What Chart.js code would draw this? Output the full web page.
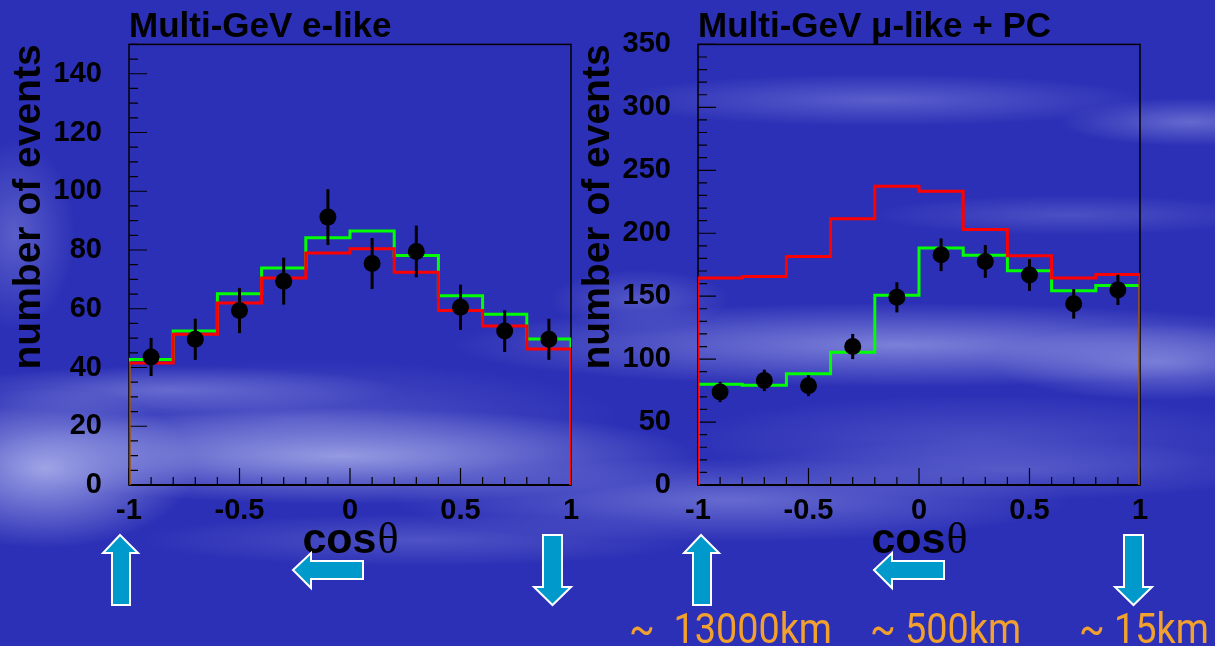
<!DOCTYPE html>
<html>
<head>
<meta charset="utf-8">
<script src="https://cdn.jsdelivr.net/npm/chart.js@4.4.0/dist/chart.umd.min.js"></script>
<style>
html, body { margin: 0; padding: 0; }
body {
    width: 1215px; height: 646px; overflow: hidden; position: relative;
    background:
        radial-gradient(ellipse 360px 48px at 340px 456px, rgba(165,170,232,0.85), rgba(165,170,232,0) 100%),
        radial-gradient(ellipse 150px 80px at 45px 468px, rgba(170,175,235,0.9), rgba(170,175,235,0) 100%),
        radial-gradient(ellipse 320px 60px at 300px 420px, rgba(120,125,215,0.45), rgba(120,125,215,0) 100%),
        radial-gradient(ellipse 230px 24px at 170px 390px, rgba(135,140,222,0.6), rgba(135,140,222,0) 100%),
        radial-gradient(ellipse 450px 42px at 900px 345px, rgba(150,155,228,0.75), rgba(150,155,228,0) 100%),
        radial-gradient(ellipse 170px 38px at 1160px 362px, rgba(150,155,228,0.65), rgba(150,155,228,0) 100%),
        radial-gradient(ellipse 300px 45px at 980px 440px, rgba(120,125,215,0.4), rgba(120,125,215,0) 100%),
        radial-gradient(ellipse 270px 26px at 880px 100px, rgba(120,125,218,0.6), rgba(120,125,218,0) 100%),
        radial-gradient(ellipse 130px 24px at 1190px 122px, rgba(130,135,220,0.65), rgba(130,135,220,0) 100%),
        radial-gradient(ellipse 60px 95px at 15px 235px, rgba(120,125,215,0.6), rgba(120,125,215,0) 100%),
        radial-gradient(ellipse 90px 30px at 640px 300px, rgba(125,130,218,0.5), rgba(125,130,218,0) 100%),
        radial-gradient(ellipse 340px 42px at 730px 500px, rgba(140,145,225,0.6), rgba(140,145,225,0) 100%),
        radial-gradient(ellipse 270px 30px at 1010px 470px, rgba(125,130,218,0.45), rgba(125,130,218,0) 100%),
        radial-gradient(ellipse 200px 20px at 1070px 215px, rgba(115,120,212,0.45), rgba(115,120,212,0) 100%),
        radial-gradient(ellipse 280px 26px at 420px 540px, rgba(120,125,215,0.45), rgba(120,125,215,0) 100%),
        #2c30b6;
}
.plot { position: absolute; top: 0; }
#wrapE { left: 0; }
#wrapMu { left: 569px; }
svg { position: absolute; left: 0; top: 0; }
.dist {
    position: absolute; top: 604px; color: #f2a12e;
    font: 42px Roboto, sans-serif; line-height: normal;
    transform: scaleX(0.9); transform-origin: left top; white-space: pre;
}
</style>
</head>
<body>
<div class="plot" id="wrapE"><canvas id="eChart" width="590" height="560"></canvas></div>
<div class="plot" id="wrapMu"><canvas id="muChart" width="590" height="560"></canvas></div>

<svg width="1215" height="646">
  <g fill="#0099cc" stroke="#ffffff" stroke-width="2" stroke-linejoin="miter">
    <polygon points="120,535 138,553 130,553 130,605 112,605 112,553 103,553"/>
    <polygon points="293,570 311,553 311,561 363,561 363,579 311,579 311,588"/>
    <polygon points="543,535 562,535 562,587 571,587 552.5,605 534,587 543,587"/>
    <polygon points="701,535 719,553 711,553 711,605 693,605 693,553 684,553"/>
    <polygon points="874,570 892,553 892,561 944,561 944,579 892,579 892,588"/>
    <polygon points="1124,535 1143,535 1143,587 1152,587 1133.5,605 1115,587 1124,587"/>
  </g>
</svg>

<div class="dist" style="left:629px">~  13000km</div>
<div class="dist" style="left:870px">~ 500km</div>
<div class="dist" style="left:1079px">~ 15km</div>

<script>
// bins in cos(theta)
const binEdges = [-1, -0.8, -0.6, -0.4, -0.2, 0, 0.2, 0.4, 0.6, 0.8, 1];
const binCenters = [-0.9, -0.7, -0.5, -0.3, -0.1, 0.1, 0.3, 0.5, 0.7, 0.9];
const xTickLabels = [-1, -0.5, 0, 0.5, 1];

// Multi-GeV e-like
const eTitle = 'Multi-GeV e-like';
const eData = [43.6, 49.6, 59.4, 69.4, 91.2, 75.4, 79.5, 60.5, 52.4, 49.6];
const eErr = [6.5, 7, 7.7, 8, 9.5, 8.7, 8.8, 7.7, 7.1, 7];
const eOsc = [42.7, 52.4, 65.1, 73.9, 84.2, 86.5, 78.1, 64.4, 58.1, 49.7];
const eNoOsc = [41.5, 51.3, 62.0, 70.5, 79.0, 80.4, 72.4, 59.4, 54.1, 46.3];
const eYTicks = [0, 20, 40, 60, 80, 100, 120, 140];

// Multi-GeV mu-like + PC
const muTitle = 'Multi-GeV μ-like + PC';
const muData = [73.9, 83.1, 78.9, 110, 149.1, 182.9, 177.6, 166.8, 143.9, 155];
const muErr = [8, 8.5, 8.3, 10, 12, 13, 13, 12.6, 11.7, 12];
const muOsc = [80, 79.2, 88.4, 105.5, 150.7, 188.2, 182.6, 170.2, 154.4, 158.4];
const muNoOsc = [164.4, 165.7, 181.5, 211.6, 237.3, 233.3, 203, 182.1, 164.4, 167.3];
const muYTicks = [0, 50, 100, 150, 200, 250, 300, 350];

const yAxisTitle = 'number of events';
const xAxisTitle = ['cos', 'θ'];

const sans = '"Liberation Sans", Arial, sans-serif';
Chart.defaults.font.family = sans;
Chart.defaults.color = '#000';

// histogram outline, dropping to zero at both ends
function histPoints(vals) {
    const last = binEdges.length - 1;
    const pts = [{ x: binEdges[0], y: 0 }];
    vals.forEach((v, i) => pts.push({ x: binEdges[i], y: v }));
    pts.push({ x: binEdges[last], y: vals[vals.length - 1] });
    pts.push({ x: binEdges[last], y: 0 });
    return pts;
}

// frame + ROOT style ticks drawn inside the frame
const frameTicks = {
    id: 'frameTicks',
    beforeDatasetsDraw(chart, args, opts) {
        const { ctx, chartArea: a, scales: { x, y } } = chart;
        ctx.save();
        ctx.strokeStyle = '#000';
        ctx.lineWidth = 1.5;
        ctx.strokeRect(a.left, a.top, a.right - a.left, a.bottom - a.top);
        ctx.lineWidth = 1.2;
        ctx.beginPath();
        const ny = Math.round((y.max - y.min) / opts.yMinor);
        for (let k = 0; k <= ny; k++) {
            const v = y.min + k * opts.yMinor;
            const py = y.getPixelForValue(v);
            const major = Math.abs(v / opts.yMajor - Math.round(v / opts.yMajor)) < 1e-6;
            ctx.moveTo(a.left, py);
            ctx.lineTo(a.left + (major ? 18 : 9), py);
        }
        const nx = Math.round((x.max - x.min) / opts.xMinor);
        for (let k = 0; k <= nx; k++) {
            const v = x.min + k * opts.xMinor;
            const px = x.getPixelForValue(v);
            const major = Math.abs(v / opts.xMajor - Math.round(v / opts.xMajor)) < 1e-6;
            ctx.moveTo(px, a.bottom);
            ctx.lineTo(px, a.bottom - (major ? 17 : 8));
        }
        ctx.stroke();
        ctx.lineWidth = 2;
        ctx.beginPath();
        ctx.moveTo(a.left, a.bottom);
        ctx.lineTo(a.right, a.bottom);
        ctx.stroke();
        ctx.restore();
    }
};

// vertical error bars on the data points
const errorBars = {
    id: 'errorBars',
    afterDatasetsDraw(chart) {
        const { ctx, scales: { x, y } } = chart;
        chart.data.datasets.forEach(ds => {
            if (!ds.errors) return;
            ctx.save();
            ctx.strokeStyle = '#000';
            ctx.lineWidth = 3;
            ds.data.forEach((p, i) => {
                const px = x.getPixelForValue(p.x);
                ctx.beginPath();
                ctx.moveTo(px, y.getPixelForValue(p.y + ds.errors[i]));
                ctx.lineTo(px, y.getPixelForValue(p.y - ds.errors[i]));
                ctx.stroke();
            });
            ctx.restore();
        });
    }
};

// "cos" in bold sans + theta in a serif face, centred under the axis
const cosTitle = {
    id: 'cosTitle',
    afterDraw(chart) {
        const { ctx, chartArea: a } = chart;
        const bold = 'bold 43px ' + sans;
        const serif = '44px "Liberation Serif", serif';
        ctx.save();
        ctx.fillStyle = '#000';
        ctx.textBaseline = 'alphabetic';
        ctx.font = bold;
        const w1 = ctx.measureText(xAxisTitle[0]).width;
        ctx.font = serif;
        const w2 = ctx.measureText(xAxisTitle[1]).width;
        const x0 = (a.left + a.right) / 2 - (w1 + w2) / 2;
        ctx.font = bold;
        ctx.fillText(xAxisTitle[0], x0, 553);
        ctx.font = serif;
        ctx.fillText(xAxisTitle[1], x0 + w1 + 1, 553);
        ctx.restore();
    }
};

function makeChart(id, title, data, err, osc, noOsc, yMax, yTicks, yMajor, yMinor) {
    const tickFont = { size: 29, weight: 'bold' };
    return new Chart(document.getElementById(id), {
        type: 'line',
        data: {
            datasets: [
                {
                    label: 'data',
                    data: binCenters.map((c, i) => ({ x: c, y: data[i] })),
                    errors: err,
                    showLine: false,
                    pointRadius: 8.5,
                    pointBackgroundColor: '#000',
                    pointBorderWidth: 0,
                    order: 0
                },
                {
                    label: 'no oscillation',
                    data: histPoints(noOsc),
                    stepped: 'before',
                    borderColor: '#ff0000',
                    borderWidth: 3,
                    pointRadius: 0,
                    fill: false,
                    order: 1
                },
                {
                    label: 'oscillation',
                    data: histPoints(osc),
                    stepped: 'before',
                    borderColor: '#00ff00',
                    borderWidth: 3,
                    pointRadius: 0,
                    fill: false,
                    order: 2
                }
            ]
        },
        options: {
            responsive: false,
            animation: false,
            layout: { padding: { left: 0, right: 19, top: 0, bottom: 0 } },
            plugins: {
                legend: { display: false },
                tooltip: { enabled: false },
                title: {
                    display: true,
                    text: title,
                    align: 'start',
                    fullSize: false,
                    color: '#000',
                    font: { size: 35, weight: 'bold', lineHeight: 1 },
                    padding: { top: 8, bottom: 0 }
                },
                frameTicks: { yMajor: yMajor, yMinor: yMinor, xMajor: 0.5, xMinor: 0.1 }
            },
            scales: {
                x: {
                    type: 'linear',
                    min: -1,
                    max: 1,
                    grid: { display: false, drawTicks: false },
                    border: { display: false },
                    afterBuildTicks: s => { s.ticks = xTickLabels.map(v => ({ value: v })); },
                    afterFit: s => { s.height = 75; },
                    ticks: {
                        font: tickFont, color: '#000', padding: 9,
                        maxRotation: 0, autoSkip: false,
                        callback: v => String(v)
                    }
                },
                y: {
                    min: 0,
                    max: yMax,
                    grid: { display: false, drawTicks: false },
                    border: { display: false },
                    afterBuildTicks: s => { s.ticks = yTicks.map(v => ({ value: v })); },
                    afterFit: s => { s.width = 129; },
                    ticks: {
                        font: tickFont, color: '#000', padding: 27,
                        autoSkip: false,
                        callback: v => String(v)
                    },
                    title: {
                        display: true,
                        text: yAxisTitle,
                        align: 'end',
                        color: '#000',
                        font: { size: 39, weight: 'bold' },
                        padding: { top: 6, bottom: 0 }
                    }
                }
            }
        },
        plugins: [frameTicks, errorBars, cosTitle]
    });
}

makeChart('eChart', eTitle, eData, eErr, eOsc, eNoOsc, 150, eYTicks, 20, 5);
makeChart('muChart', muTitle, muData, muErr, muOsc, muNoOsc, 350, muYTicks, 50, 10);
</script>
</body>
</html>
